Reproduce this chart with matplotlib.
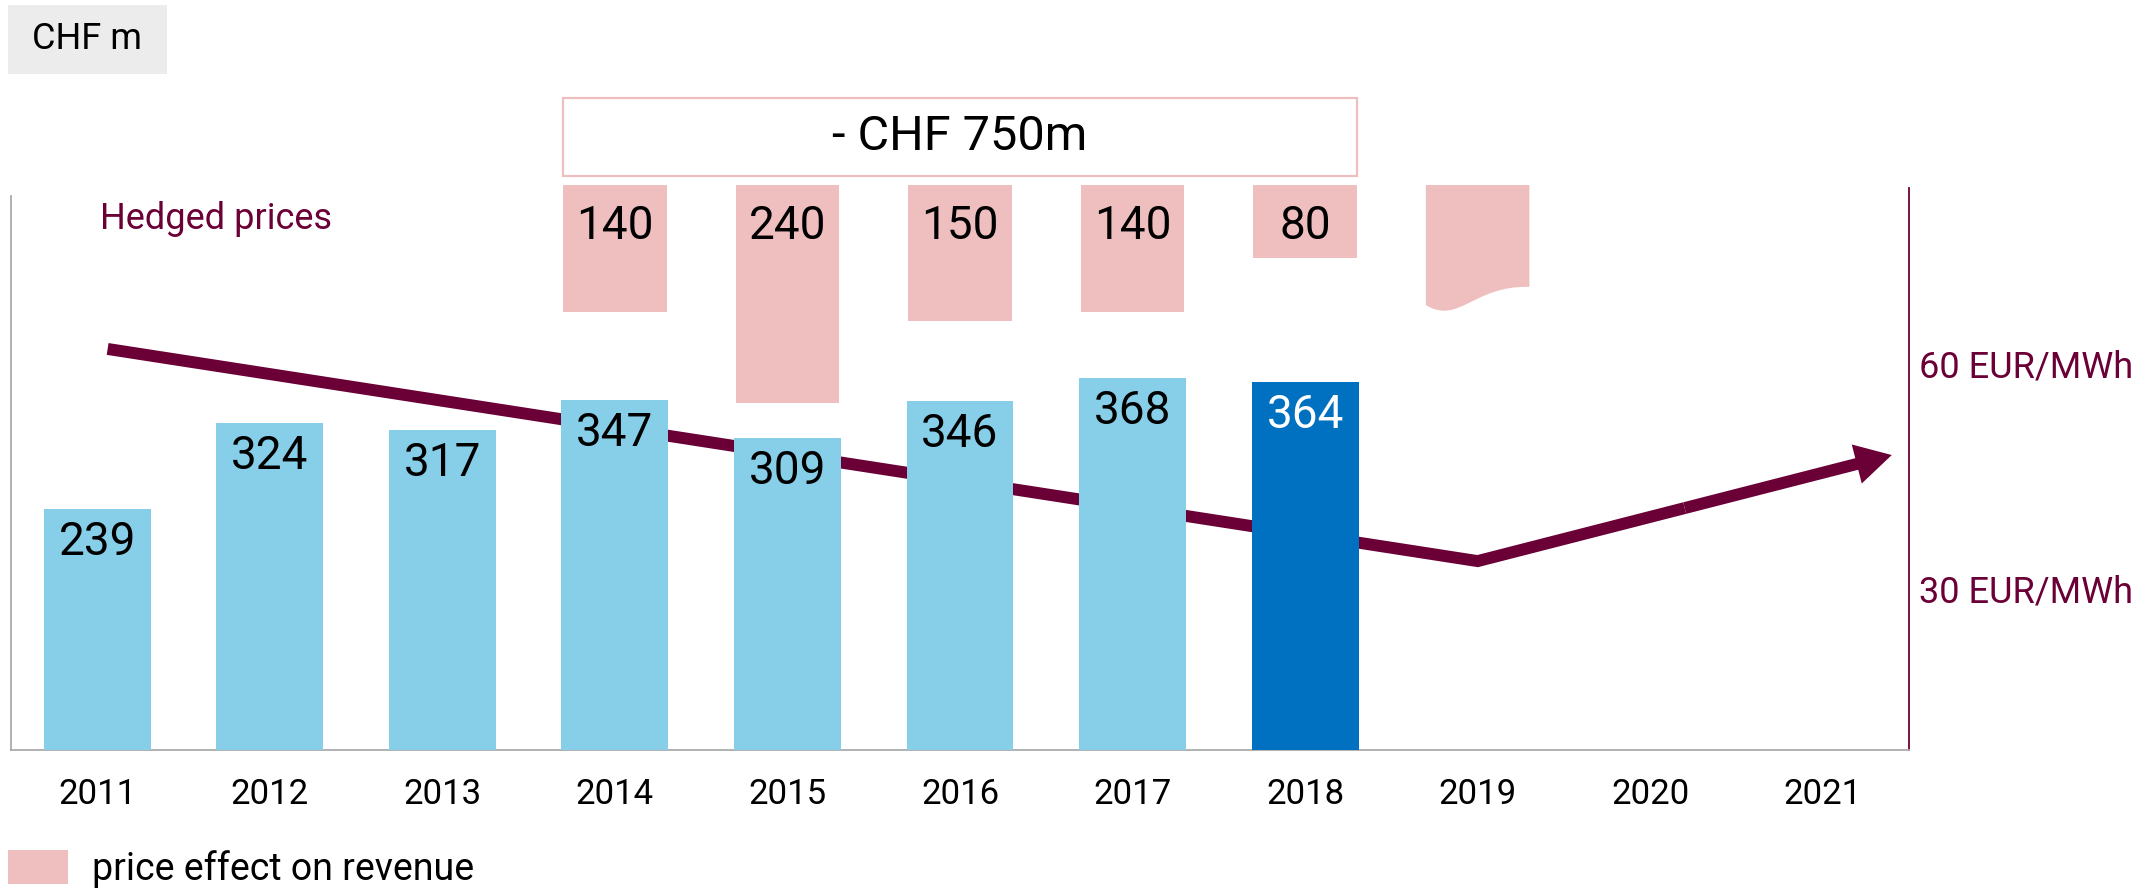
import matplotlib
matplotlib.use("Agg")
import matplotlib.pyplot as plt
from matplotlib.patches import Rectangle, Patch, PathPatch
from matplotlib.path import Path
from matplotlib.transforms import blended_transform_factory

# --- data -------------------------------------------------------------------
years = [2011, 2012, 2013, 2014, 2015, 2016, 2017, 2018, 2019, 2020, 2021]
revenue_years = [2011, 2012, 2013, 2014, 2015, 2016, 2017, 2018]
revenue = [239, 324, 317, 347, 309, 346, 368, 364]          # CHF m
effect_years = [2014, 2015, 2016, 2017, 2018]
price_effect = [140, 240, 150, 140, 80]                       # CHF m
total_effect_label = "- CHF 750m"
outlook_year = 2019
outlook_depth = (132, 112)                                    # open-ended bar, left / right edge
price_x = [2011.06, 2019, 2021.4]
price_eur = [62.0, 33.6, 47.8]                                # EUR/MWh
price_ticks = [30, 60]

# --- style ------------------------------------------------------------------
LIGHT = "#87CEE8"
DARK = "#0070C0"
PINK = "#EFBFC0"
MAROON = "#6B0036"
GREY = "#ABABAB"
BOX = "#ECECEC"

plt.rcParams["font.family"] = ["Roboto", "DejaVu Sans"]

W, H, DPI = 2149, 888, 100
AX_L, AX_R, AX_B, AX_T = 11, 1909, 750, 188      # plot frame, pixels from top-left
PE_TOP = 185                                    # top edge of price-effect bars
BAR_PX = 1.01                                   # px per CHF m (revenue)
PE_PX = 0.91                                    # px per CHF m (price effect)
PRICE_PX = 7.47                                 # px per EUR/MWh
PRICE_30_Y = 588


def fx(px):
    return px / W


def fy(py):
    return 1 - py / H


fig = plt.figure(figsize=(W / DPI, H / DPI), dpi=DPI)
rect = [fx(AX_L), fy(AX_B), fx(AX_R - AX_L), (AX_B - AX_T) / H]
ax = fig.add_axes(rect)
ax_price = ax.twinx()
ax.set_zorder(ax_price.get_zorder() + 1)
ax.patch.set_visible(False)

# revenue bars
ax.set_xlim(2010.5, 2021.5)
ax.set_ylim(0, (AX_B - AX_T) / BAR_PX)
bar_colors = [LIGHT] * (len(revenue) - 1) + [DARK]
ax.bar(revenue_years, revenue, width=0.62, color=bar_colors, zorder=3)
for x, v, c in zip(revenue_years, revenue, bar_colors):
    ax.annotate(str(v), (x, v), xytext=(0, -33 * 72 / DPI), textcoords="offset points",
                ha="center", va="center", fontsize=33,
                color="white" if c == DARK else "black", zorder=4)

ax.set_xticks(years)
ax.set_xticklabels([str(y) for y in years])
ax.tick_params(axis="x", length=0, pad=20, labelsize=25)
ax.set_yticks([])
for s in ("top", "right"):
    ax.spines[s].set_visible(False)
for s in ("left", "bottom"):
    ax.spines[s].set_color(GREY)
    ax.spines[s].set_linewidth(1.3)
ax.spines["left"].set_bounds(0, (AX_B - 196) / BAR_PX)

# hedged price line on the right axis
lo = 30 - (AX_B - PRICE_30_Y) / PRICE_PX
ax_price.set_ylim(lo, lo + (AX_B - AX_T) / PRICE_PX)
ax_price.set_yticks(price_ticks)
ax_price.set_yticklabels([f"{v} EUR/MWh" for v in price_ticks])
ax_price.tick_params(axis="y", length=0, pad=7, labelsize=26, labelcolor=MAROON)
for s in ("top", "left", "bottom"):
    ax_price.spines[s].set_visible(False)
ax_price.spines["right"].set_color(MAROON)
ax_price.spines["right"].set_linewidth(1.3)

mid_x = (price_x[1] + price_x[2]) / 2
mid_y = (price_eur[1] + price_eur[2]) / 2
ax_price.plot([price_x[0], price_x[1], mid_x], [price_eur[0], price_eur[1], mid_y],
              color=MAROON, lw=8.6, solid_joinstyle="miter", solid_capstyle="butt")
ax_price.annotate("", xy=(price_x[2], price_eur[2]), xytext=(mid_x, mid_y),
                  arrowprops=dict(width=8.6, headwidth=29, headlength=26, shrink=0,
                                  color=MAROON, lw=0))

# price-effect bars hanging from the top
ax_pe = fig.add_axes([fx(AX_L), fy(AX_B), fx(AX_R - AX_L), (AX_B - PE_TOP) / H], sharex=ax)
ax_pe.set_ylim((AX_B - PE_TOP) / PE_PX, 0)
ax_pe.axis("off")
ax_pe.set_zorder(ax.get_zorder() + 1)
ax_pe.patch.set_visible(False)
pe_w = 0.6
ax_pe.bar(effect_years, price_effect, width=pe_w, color=PINK)
for x, v in zip(effect_years, price_effect):
    ax_pe.annotate(str(v), (x, 0), xytext=(0, -41 * 72 / DPI), textcoords="offset points",
                   ha="center", va="center", fontsize=33)

# open-ended 2019 effect with a torn bottom edge
x0, x1 = outlook_year - pe_w / 2, outlook_year + pe_w / 2
dl, dr = outlook_depth
verts = [(x0, 0), (x0, dl),
         (x0 + 0.32 * pe_w, dl + 22), (x0 + 0.46 * pe_w, dr - 2), (x1, dr),
         (x1, 0), (x0, 0)]
codes = [Path.MOVETO, Path.LINETO, Path.CURVE4, Path.CURVE4, Path.CURVE4,
         Path.LINETO, Path.CLOSEPOLY]
ax_pe.add_patch(PathPatch(Path(verts, codes), fc=PINK, ec="none"))

# total box over the effect bars
trans = blended_transform_factory(ax_pe.transData, fig.transFigure)
bx0 = effect_years[0] - pe_w / 2
bx1 = effect_years[-1] + pe_w / 2
fig.add_artist(Rectangle((bx0, fy(176)), bx1 - bx0, (176 - 98) / H, transform=trans,
                         fill=False, ec=PINK, lw=1.6))
fig.text((bx0 + bx1) / 2, fy(137), total_effect_label, transform=trans,
         ha="center", va="center", fontsize=35)

# labels
fig.text(fx(100), fy(219), "Hedged prices", color=MAROON, fontsize=26, va="center")
fig.add_artist(Rectangle((fx(8), fy(74)), fx(159), 69 / H, transform=fig.transFigure,
                         fc=BOX, ec="none"))
fig.text(fx(87), fy(39), "CHF m", ha="center", va="center", fontsize=26)

fig.legend(handles=[Patch(fc=PINK, label="price effect on revenue")],
           loc="lower left", bbox_to_anchor=(fx(8), 0.0), frameon=False, fontsize=27,
           handlelength=1.6, handleheight=1.0, handletextpad=0.65,
           borderpad=0, borderaxespad=0)

fig.savefig("out.png", dpi=DPI)
